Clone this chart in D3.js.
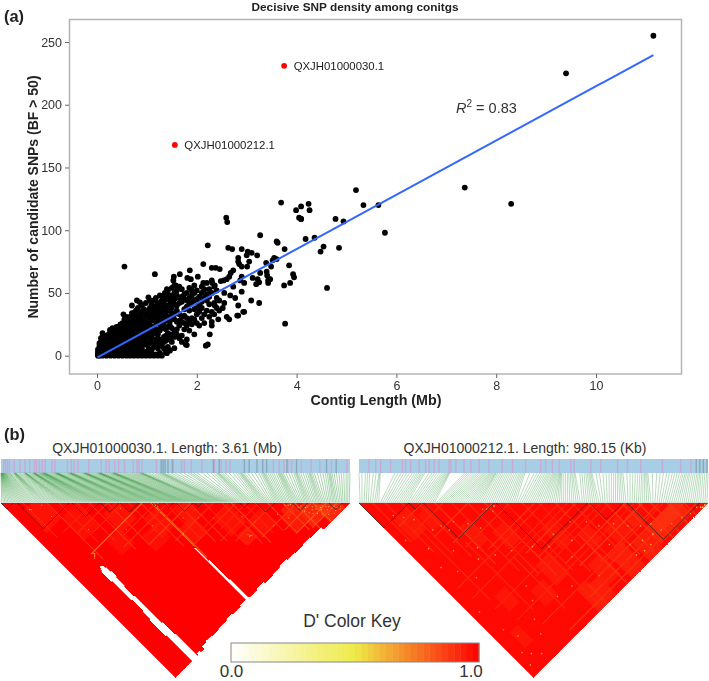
<!DOCTYPE html>
<html><head><meta charset="utf-8">
<script src="https://cdn.jsdelivr.net/npm/d3@7"></script>
<style>html,body{margin:0;padding:0;background:#fff}svg{display:block;font-family:"Liberation Sans",Arial,sans-serif}</style>
</head><body><svg id="c" width="709" height="681"></svg>
<script>
// ---------- panel (a) data ----------
const sparseLength=[11.15,9.40,7.37,8.30,5.77,5.64,5.34,5.19,4.94,4.78,4.85,4.61,4.48,4.54,4.18,4.36,4.24,4.26,4.09,4.09,3.69,3.99,4.05,4.09,2.59,2.61,3.27,3.60,3.62,2.22,2.63,2.71,2.90,3.02,3.10,3.00,3.21,3.76,2.83,2.83,3.05,2.85,2.90,3.01,3.39,3.55,3.60,3.52,3.49,3.85,3.93,3.95,2.13,2.30,2.38,2.46,2.73,2.68,2.65,2.60,1.16,1.54,1.66,1.86,1.53,1.58,1.81,1.88,2.02,2.13,2.31,2.36,2.48,2.54,2.90,2.95,2.87,3.12,3.22,3.27,3.19,3.25,3.40,3.41,3.43,3.47,3.43,3.75,3.87,2.73,2.90,2.67,2.77,3.09,3.25,2.83,2.93,2.81,2.52,2.36,0.55,2.18,2.22,2.26,2.30,2.43,1.78,1.40,2.60,2.65,2.83,2.95,3.77,0.11,0.26,0.53,0.43,0.70,0.80,0.86,0.73,1.03,1.06,1.40,1.36,1.80,1.46,1.26];
const sparseSnps=[255,225,134,121,98,120,120,132,107,109,86,54,83,87,93,94,121,116,119,109,122,116,110,109,110,106.5,96,91,90,88,86,85,85,83,82,80,80,85,78,75,75,73,71,71,74,78,77,76,71,72,65,62.5,73,70,70,69,68,66,63,61,65,63,65,68,60,56,62,61,63,58,58,56,59.5,60,63,58,60,62,61,66,57,58.5,67,64,60,61,58,56,58,55,51,48,46,44,42,40,35,32,38,40,71,8,9,17,24,29,9,2,31,29,32,35,25.5,18,20.5,33,23,40,44,42.5,34,46.5,44,53,50,8.5,4.5,2];
const denseLength=[.02,.05,.08,.11,.15,.19,.23,.27,.31,.35,.39,.43,.47,.51,.55,.59,.63,.66,.70,.74,.78,.82,.86,.90,.94,.98,1.02,1.06,1.10,1.14,1.18,1.22,1.26,1.30,1.34,1.38,1.42,1.46,1.50,1.55,1.60,1.65,1.70,1.75,1.80,1.85,1.90,1.95,2.00,2.05,2.10,2.15,2.20,2.25,2.30,2.35,2.40,2.45,2.55];
const denseSnps=[[0,1,2,3,5],[0,2,4,6,8,10],[1,3,5,8,11,14],[0,3,6,9,12,15],[1,4,7,10,13,16],[0,2,5,8,12,15],[1,4,7,10,14,17],[0,3,6,9,12,16,19],[1,5,8,11,15,18,22],[0,2,6,10,13,17,21],[1,4,8,12,15,19,23],[0,3,6,10,14,17,20,23],[1,5,9,12,16,21,25],[0,3,7,11,14,18,22,26],[1,4,8,13,17,20,24,29],[0,2,6,10,15,19,23,27,31],[1,5,9,12,16,21,25,28],[0,3,7,11,15,19,24,27,31],[1,4,8,13,17,22,26,29,34],[0,2,6,10,14,18,21,25,30,33],[1,5,9,12,16,20,24,28,32,36],[0,3,7,11,15,23,27,31,38],[1,4,8,18,22,26,30,35],[0,2,6,10,14,21,25,29,33,40],[1,9,12,16,20,24,28,34,37],[0,3,11,15,19,23,27,32,36,42],[1,4,8,17,22,26,31,35],[0,2,10,14,18,25,30,34,38],[1,5,12,16,20,29,33,37,41],[0,7,11,19,23,28,32,36,44],[1,9,13,18,27,31,35,39,46],[0,6,14,17,21,26,30,34,42],[2,9,12,20,25,29,33,37,41,48],[0,8,13,23,27,31,35,40,44],[6,11,15,22,26,30,38,42,47],[3,12,16,21,29,33,37,45,50],[7,14,18,23,28,36,40,46,52],[4,13,17,24,27,31,39,44,48],[11,16,22,30,34,38,42,47,54],[6,15,19,29,33,41,45,50,56],[17,21,27,36,40,48,52],[14,24,28,33,42,46,55],[11,16,27,31,43,47,53],[21,26,32,37,45,49],[13,24,30,39,44,50],[20,27,36,41,46,54],[25,30,42,48,52],[17,29,37,44,50,56],[26,33,38,45,52],[24,35,41,47],[30,38,43,50,55],[26,33,46,53],[36,44,49,58],[31,41,47,53],[27,35,50,60],[33,42,55],[38,46,52],[36,44],[42,50]];
const labelledNames=["QXJH01000030.1","QXJH01000212.1"];
const labelledLength=[3.75,1.56];
const labelledSnps=[231,168];
const fitLength=[0.01,11.15];
const fitSnps=[-1.3,239.6];
const xTicks=[0,2,4,6,8,10];
const yTicks=[0,50,100,150,200,250];

// ---------- panel (b) data ----------
const leftPositions=[0,.002,.004,.006,.009,.012,.014,.017,.02,.024,.028,.031,.036,.041,.045,.052,.058,.066,.073,.083,.09,.097,.11,.122,.13,.136,.14,.143,.146,.149,.152,.158,.17,.184,.196,.21,.222,.232,.24,.246,.25,.253,.256,.26,.271,.285,.298,.312,.322,.33,.336,.34,.343,.346,.35,.358,.372,.385,.396,.405,.414,.422,.43,.436,.441,.445,.452,.46,.472,.488,.507,.525,.541,.553,.561,.567,.572,.577,.583,.591,.605,.625,.648,.668,.685,.697,.706,.713,.719,.725,.733,.745,.765,.79,.812,.832,.846,.856,.863,.869,.875,.882,.893,.912,.935,.958,.978,.993,1.004,1.012,1.018,1.024,1.031,1.044,1.066,1.09,1.112,1.13,1.144,1.154,1.162,1.169,1.176,1.186,1.205,1.232,1.258,1.282,1.305,1.33,1.352,1.376,1.395,1.418,1.432,1.442,1.45,1.458,1.47,1.495,1.53,1.565,1.598,1.625,1.645,1.66,1.672,1.69,1.72,1.76,1.8,1.845,1.89,1.934,1.96,1.99,2.03,2.08,2.13,2.17,2.2,2.22,2.235,2.245,2.255,2.27,2.29,2.32,2.36,2.4,2.43,2.455,2.47,2.48,2.49,2.5,2.52,2.55,2.59,2.63,2.665,2.69,2.705,2.715,2.725,2.74,2.76,2.78,2.8,2.82,2.845,2.865,2.875,2.885,2.895,2.905,2.92,2.945,2.975,3.005,3.03,3.045,3.055,3.065,3.08,3.1,3.125,3.15,3.17,3.185,3.195,3.205,3.22,3.24,3.27,3.3,3.33,3.355,3.375,3.39,3.4,3.41,3.425,3.445,3.47,3.495,3.52,3.545,3.57,3.59,3.61];
const rightPositions=[0,8,18,24,30,40,48,56,58,60,101,110,118,126,134,142,150,157,163,168,173,177,181,185,197,205,212,219,226,232,237,241,245,248,251,253,255,297,303,309,315,321,327,332,337,342,347,351,355,359,363,367,370,373,376,379,382,384,386,390,395,400,405,410,415,420,425,430,435,440,445,450,454,458,462,466,480,492,500,507,513,518,523,528,532,536,540,544,547,550,553,556,559,562,564,566,568,570,575,580,585,589,593,597,600,604,607,620,626,632,637,641,645,648,651,654,665,675,685,694,702,709,715,720,725,729,733,737,741,752,761,769,776,783,789,794,798,802,805,808,811,824,836,846,855,864,872,880,887,894,900,906,911,916,920,925,929,934,939,944,949,953,957,961,966,971,976,980];
const leftPink=[.02,.04,.06,.08,.13,.19,.24,.29,.34,.36,.39,.42,.45,.52,.55,.68,.72,.75,.79,.9,1.03,1.08,1.11,1.17,1.21,1.27,1.36,1.4,1.42,1.45,1.6,1.76,1.86,1.89,1.96,2.07,2.2,2.27,2.32,2.36,2.81,2.87,2.92,2.96,3.0,3.1,3.2,3.29,3.41,3.57];
const leftGrey=[1.65,1.67,1.69,1.72,1.77,2.19,2.25,2.51,2.56,2.64,2.7,2.74,2.95,3.05,3.36,3.46];
const rightPink=[26,45,59,87,120,129,143,167,185,195,209,223,251,256,270,293,312,335,363,400,429,466,508,522,541,560,593,602,649,677,724,752,789,850,901,930];
const rightGrey=[945,955,965,975];
const leftBlocks=[[0,8],[11,45],[47,65],[66,78],[79,91],[100,105],[108,114],[116,127],[128,133],[158,164],[169,181],[193,203],[217,226]];
const rightBlocks=[[0,24],[24,30],[31,65],[66,110],[111,127],[129,164]];
const leftEdgeColumn=[0,30,34,38,44,52,60,72,80,90,102,112,122,132,142,152,162,172,182,190,196];
const leftEdgeJ=[231,229,231,228,227,228,227,226,227,226,227,226,228,227,226,227,228,227,228,228,231];
// white (no data) runs in the left matrix: [column, first row, last row]
const leftGaps=[[21,112,124],[21,176,196],[22,110,150],[22,166,231],[23,108,231],[24,108,231],[25,109,231],[26,112,136],[26,150,231],[27,118,124],[27,186,231],[28,202,231],[98,158,231],[99,176,231],[100,202,231]];
// rectangular patches of slightly lower D': [first column, last column, first row, last row, D']
const leftPatches=[[10,30,20,50,.93],[30,50,50,80,.94],[60,80,75,100,.93],[85,100,105,130,.93],[110,125,120,140,.92],[130,150,150,175,.93],[150,170,175,195,.92],[175,190,195,215,.9],[190,210,200,222,.85],[205,225,212,231,.84],[180,195,190,200,.88],[135,148,178,192,.9],[100,118,135,155,.92],[70,90,115,135,.94],[45,62,95,115,.94]];
const rightPatches=[[63,72,147,168,.9],[70,80,150,168,.9],[80,92,140,160,.91],[95,108,145,168,.9],[112,125,150,168,.9],[125,140,150,165,.88],[8,20,25,45,.92],[22,32,34,50,.93],[36,44,60,80,.92],[50,60,78,95,.93],[20,30,110,125,.93],[10,18,135,150,.93],[40,52,125,140,.93],[55,68,115,135,.92],[75,85,100,120,.93],[90,100,120,135,.92],[105,118,130,145,.92],[120,130,135,145,.9],[130,150,150,160,.88],[140,155,150,165,.87]];
// streaks with lower D': [column or row, from, to, D']
const leftCols=[[14,14,60,.92],[30,30,105,.9],[38,38,90,.92],[50,50,100,.92],[58,58,120,.9],[70,70,125,.9],[84,84,130,.92],[92,92,150,.9],[99,99,157,.76],[100,100,172,.82],[108,108,155,.92],[116,116,168,.9],[124,124,175,.9],[134,134,190,.92],[146,146,200,.9],[152,152,205,.85],[160,160,200,.92],[168,168,205,.9],[176,176,215,.86],[186,186,222,.86],[194,194,228,.82],[206,206,231,.82]];
const leftRows=[[93,26,93,.76],[70,30,70,.9],[80,40,80,.92],[60,22,60,.93],[110,52,110,.9],[125,70,125,.86],[140,90,140,.9],[155,100,155,.9],[170,120,170,.92],[180,130,180,.9],[195,150,195,.88],[205,170,205,.84],[215,175,215,.8],[222,190,222,.82],[102,60,102,.92],[118,78,118,.92],[150,112,150,.93],[162,128,162,.92]];
const leftSpots=[[27,96,.55],[28,95,.55],[26,97,.6],[27,94,.62],[25,98,.7],[99,141,.6],[100,140,.62],[142,186,.6],[143,186,.62],[142,184,.65],[144,187,.65],[14,23,.6],[15,24,.6],[25,28,.65],[24,42,.7],[100,103,.55],[101,105,.6],[103,104,.62],[186,189,.55],[188,191,.6],[190,192,.6],[196,200,.58],[198,204,.55],[200,204,.6],[201,210,.55],[203,208,.62],[204,212,.56],[206,210,.6],[207,216,.6],[208,214,.55],[210,214,.62],[211,220,.56],[212,217,.6],[214,219,.58],[215,222,.65],[216,226,.6],[218,222,.62],[219,225,.58],[220,228,.65],[222,226,.6],[193,199,.62],[195,206,.58],[197,210,.6],[199,213,.65],[202,216,.6],[205,220,.66],[209,224,.62],[213,227,.7],[120,140,.68],[130,150,.7],[75,82,.68],[85,115,.7],[65,100,.72],[40,75,.72],[110,130,.66],[150,168,.66],[155,180,.7],[165,195,.66],[175,190,.62],[180,200,.64]];
const rightCols=[[6,6,44,.92],[12,12,60,.92],[20,20,70,.93],[28,28,80,.92],[36,36,95,.9],[44,44,110,.93],[52,52,120,.92],[60,60,130,.9],[70,70,135,.93],[78,78,145,.92],[86,86,130,.94],[94,94,150,.92],[102,102,145,.92],[110,110,160,.9],[118,118,168,.9],[126,126,165,.9],[134,134,168,.88],[140,140,168,.9],[148,148,168,.88],[156,156,168,.9],[16,40,110,.93],[32,70,135,.93],[48,100,150,.92],[66,112,165,.92],[90,120,168,.9]];
const rightRows=[[30,8,30,.9],[40,12,40,.92],[52,20,52,.9],[64,26,64,.9],[72,30,72,.92],[84,40,84,.9],[96,44,96,.92],[104,56,104,.9],[112,60,112,.9],[120,50,120,.93],[128,70,128,.9],[136,76,136,.88],[144,88,144,.9],[150,80,150,.9],[156,66,156,.9],[162,40,162,.9],[146,30,146,.92],[132,20,132,.93],[116,14,116,.93],[100,8,100,.93],[88,6,88,.92]];
const rightSpots=[[10,22,.65],[14,28,.7],[4,40,.72],[11,55,.65],[18,34,.68],[22,48,.66],[28,50,.7],[30,56,.62],[36,54,.7],[42,62,.66],[46,70,.65],[56,62,.72],[58,64,.66],[60,68,.7],[63,66,.6],[35,78,.65],[20,92,.68],[14,80,.7],[8,70,.7],[22,68,.7],[30,84,.65],[40,90,.66],[50,96,.68],[62,104,.68],[70,112,.7],[78,108,.72],[84,120,.65],[92,110,.7],[100,118,.68],[104,126,.68],[112,132,.66],[118,140,.7],[124,146,.66],[130,150,.65],[126,156,.62],[120,160,.65],[114,160,.62],[108,158,.6],[118,154,.66],[132,158,.68],[140,160,.72],[148,162,.7],[154,164,.66],[160,164,.62],[162,166,.55],[163,167,.52],[165,167,.5],[5,110,.7],[8,130,.72],[12,140,.66],[6,150,.66],[4,160,.65],[10,155,.66],[15,160,.68],[24,150,.72],[28,140,.7],[36,130,.72],[50,140,.68],[40,120,.74],[62,142,.7],[80,150,.72],[76,128,.7],[100,140,.66],[110,150,.7]];
const dKeyLabels=["0.0","1.0"];
const keyStops=[0,.5,1];
const keyColors=["#ffffff","#eeea47","#ff0000"];
const panelTitles=["QXJH01000030.1. Length: 3.61 (Mb)","QXJH01000212.1. Length: 980.15 (Kb)"];

// ---------- drawing ----------
const svg=d3.select("#c");
svg.append("rect").attr("width",709).attr("height",681).attr("fill","#fff");
const gA=svg.append("g").style("filter","blur(.25px)");
const x=d3.scaleLinear().domain([0,10]).range([97,596]);
const y=d3.scaleLinear().domain([0,250]).range([355.7,42]);
gA.append("rect").attr("x",69.5).attr("y",19.5).attr("width",612).attr("height",354.5).attr("fill","#fff").attr("stroke","#b4b4b4").attr("stroke-width",1.5);
const ax=gA.append("g").attr("transform","translate(0,374)").call(d3.axisBottom(x).tickValues(xTicks).tickSize(4).tickPadding(3));
const ay=gA.append("g").attr("transform","translate(69,0)").call(d3.axisLeft(y).tickValues(yTicks).tickSize(4).tickPadding(3));
[ax,ay].forEach(a=>{a.select(".domain").remove();a.selectAll("line").attr("stroke","#666");a.selectAll("text").attr("fill","#333").style("font-size","12.5px").style("font-family","inherit");});
const dots=[];
sparseLength.forEach((v,i)=>dots.push([v,sparseSnps[i]]));
denseLength.forEach((v,i)=>denseSnps[i].forEach(s=>dots.push([v,s])));
gA.append("g").selectAll("circle").data(dots).join("circle").attr("cx",d=>x(d[0])).attr("cy",d=>y(d[1])).attr("r",2.9).attr("fill","#000");
gA.append("path").datum(fitLength.map((v,i)=>[v,fitSnps[i]])).attr("fill","none").attr("stroke","#3366FF").attr("stroke-width",2)
  .attr("d",d3.line().x(d=>x(d[0])).y(d=>y(d[1])));
gA.append("g").selectAll("circle").data(labelledNames).join("circle").attr("cx",(d,i)=>x(labelledLength[i])).attr("cy",(d,i)=>y(labelledSnps[i])).attr("r",2.9).attr("fill","#f00");
gA.append("g").selectAll("text").data(labelledNames).join("text").attr("x",(d,i)=>x(labelledLength[i])+9.5).attr("y",(d,i)=>y(labelledSnps[i])+4).attr("font-size",11.4).attr("fill","#222").text(d=>d);
const r2=gA.append("text").attr("x",456).attr("y",113).attr("font-size",14.5).attr("fill","#333");
r2.append("tspan").attr("font-style","italic").text("R");
r2.append("tspan").attr("dy",-6).attr("font-size",10).text("2");
r2.append("tspan").attr("dy",6).text(" = 0.83");
gA.append("text").attr("x",355).attr("y",11).attr("text-anchor","middle").attr("font-weight","bold").attr("font-size",11.8).attr("fill","#222").text("Decisive SNP density among conitgs");
gA.append("text").attr("x",376).attr("y",405).attr("text-anchor","middle").attr("font-weight","bold").attr("font-size",14.3).attr("fill","#222").text("Contig Length (Mb)");
gA.append("text").attr("transform","translate(38,197) rotate(-90)").attr("text-anchor","middle").attr("font-weight","bold").attr("font-size",14).attr("fill","#222").text("Number of candidate SNPs (BF > 50)");
svg.append("text").attr("x",4).attr("y",22).attr("font-weight","bold").attr("font-size",16.4).attr("fill","#222").text("(a)");
svg.append("text").attr("x",4).attr("y",440).attr("font-weight","bold").attr("font-size",16.4).attr("fill","#222").text("(b)");

const color=d3.scaleLinear().domain(keyStops).range(keyColors).interpolate(d3.interpolateRgb);
const defs=svg.append("defs");
function ldPanel(o){
  const N=o.positions.length, y0=503, id="clip"+o.x0;
  const xc=d3.scaleLinear().domain([0,N]).range([o.x0,o.x1]);
  const pt=(i,j)=>[xc((i+j)/2),y0+xc((j-i)/2)-o.x0];
  const quad=(i0,i1,j0,j1)=>"M"+[pt(i0,j0),pt(i1,j0),pt(i1,j1),pt(i0,j1)].map(p=>p.join(",")).join("L")+"Z";
  const g=svg.append("g").style("filter","blur(.3px)");
  defs.append("clipPath").attr("id",id).append("rect").attr("x",o.x0-2).attr("y",y0).attr("width",o.x1-o.x0+4).attr("height",190);
  const top=d3.scaleLinear().domain([0,d3.max(o.positions)]).range([o.x0,o.x1]);
  g.append("rect").attr("x",o.x0).attr("y",459).attr("width",o.x1-o.x0).attr("height",14).attr("fill","#a7cee4");
  g.selectAll(".pk").data(o.pink).join("rect").attr("x",d=>top(d)).attr("y",459).attr("width",1.4).attr("height",14).attr("fill","#cf9fd0").attr("opacity",.75);
  g.selectAll(".gr").data(o.grey).join("rect").attr("x",d=>top(d)).attr("y",459).attr("width",1.4).attr("height",14).attr("fill","#7f98a8").attr("opacity",.7);
  g.selectAll(".ln").data(o.positions).join("line").attr("x1",d=>top(d)).attr("y1",473).attr("x2",(d,i)=>xc(i+.5)).attr("y2",502)
    .attr("stroke","#12851c").attr("stroke-width",.85).attr("stroke-opacity",o.linkOpacity);
  g.append("line").attr("x1",o.x0).attr("x2",o.x1).attr("y1",502.3).attr("y2",502.3).attr("stroke","#cfd6cf").attr("stroke-width",1);
  const m=g.append("g").attr("clip-path","url(#"+id+")");
  const cols=d3.range(N);
  m.selectAll(".st").data(cols).join("path").attr("fill",color(o.baseD)).attr("stroke",color(o.baseD)).attr("stroke-width",.8).attr("shape-rendering","crispEdges")
    .attr("d",i=>{const k=d3.bisectRight(o.edgeColumn,i)-1;const e=k>=0?o.edgeJ[k]:N;return quad(i,i+1,i,Math.max(i+1,e));});
  m.selectAll(".pa").data(o.patches).join("path").attr("fill",d=>color(d[4])).attr("fill-opacity",.55).attr("d",d=>quad(d[0],d[1],d[2],d[3]));
  m.selectAll(".cs").data(o.colStreaks).join("path").attr("fill",d=>color(d[3])).attr("d",d=>quad(d[0],d[0]+1,d[1],d[2]));
  m.selectAll(".rs").data(o.rowStreaks).join("path").attr("fill",d=>color(d[3])).attr("d",d=>quad(d[1],d[2],d[0],d[0]+1));
  m.selectAll(".sp").data(o.spots).join("path").attr("fill",d=>color(d[2])).attr("d",d=>quad(d[0],d[0]+1,d[1],d[1]+1));
  m.selectAll(".gp").data(o.gaps).join("path").attr("fill","#fff").attr("stroke","#fff").attr("stroke-width",.35).attr("shape-rendering","crispEdges").attr("d",d=>quad(d[0],d[0]+1,d[1],d[2]+1));
  m.selectAll(".bk").data(o.blocks).join("path").attr("fill","none").attr("stroke","#1a1a1a").attr("stroke-width",.75).attr("stroke-opacity",.85)
    .attr("d",d=>{return d3.line()([pt(d[0],d[0]),pt(d[0],d[1]),pt(d[1],d[1])]);});
  svg.append("text").attr("x",o.tx).attr("y",453).attr("text-anchor","middle").attr("font-size",14).attr("fill","#333").text(o.title);
}
ldPanel({x0:1,x1:350,tx:167,title:panelTitles[0],baseD:1,linkOpacity:.42,positions:leftPositions,pink:leftPink,grey:leftGrey,blocks:leftBlocks,edgeColumn:leftEdgeColumn,edgeJ:leftEdgeJ,gaps:leftGaps,patches:leftPatches,colStreaks:leftCols,rowStreaks:leftRows,spots:leftSpots});
ldPanel({x0:359,x1:708,tx:525,title:panelTitles[1],baseD:.98,linkOpacity:.34,positions:rightPositions,pink:rightPink,grey:rightGrey,blocks:rightBlocks,edgeColumn:[0],edgeJ:[168],gaps:[],patches:rightPatches,colStreaks:rightCols,rowStreaks:rightRows,spots:rightSpots});

const kg=svg.append("g");
const keyBins=d3.range(40);
const kx=d3.scaleBand().domain(keyBins).range([231,479]);
kg.selectAll("rect").data(keyBins).join("rect").attr("x",d=>kx(d)).attr("y",643).attr("width",kx.bandwidth()+.4).attr("height",19).attr("fill",d=>color((d+.5)/40));
kg.append("rect").attr("x",231).attr("y",643).attr("width",248).attr("height",19).attr("fill","none").attr("stroke","#888").attr("stroke-width",1);
svg.append("text").attr("x",352).attr("y",627).attr("text-anchor","middle").attr("font-size",17.5).attr("fill","#333").text("D' Color Key");
svg.selectAll(".kl").data(dKeyLabels).join("text").attr("x",(d,i)=>i?471:231.5).attr("y",677).attr("text-anchor","middle").attr("font-size",17).attr("fill","#333").text(d=>d);
</script></body></html>
